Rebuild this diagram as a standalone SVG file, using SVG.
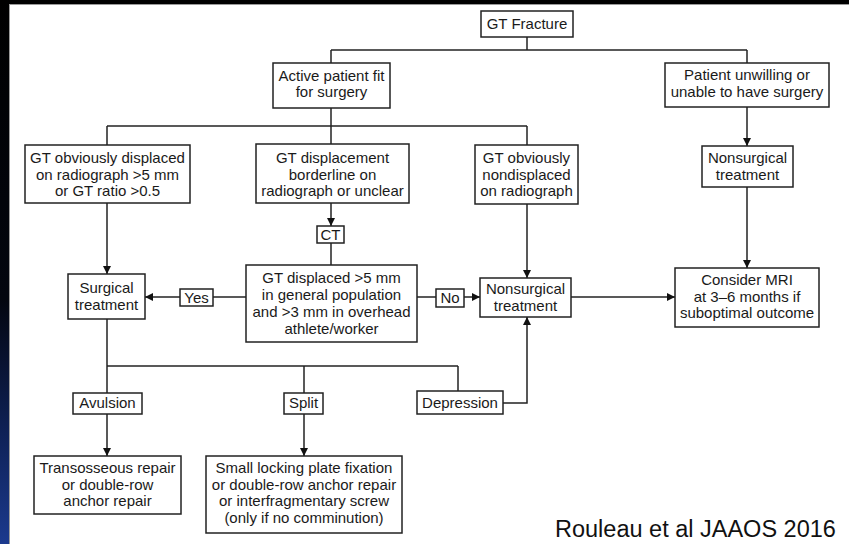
<svg xmlns="http://www.w3.org/2000/svg" width="849" height="544" viewBox="0 0 849 544">
<defs>
<linearGradient id="bg" x1="0" y1="0" x2="0" y2="1">
<stop offset="0" stop-color="#000000"/>
<stop offset="0.55" stop-color="#03060f"/>
<stop offset="0.8" stop-color="#0f2258"/>
<stop offset="1" stop-color="#1c3a8e"/>
</linearGradient>
<marker id="ah" viewBox="0 0 10 10" refX="10" refY="5" markerWidth="8" markerHeight="8" markerUnits="userSpaceOnUse" orient="auto">
<path d="M0,0 L10,5 L0,10 Z" fill="#111"/>
</marker>
<style>
.box{fill:#fff;stroke:#222;stroke-width:1.5}
.t{font-family:"Liberation Sans",Arial,sans-serif;font-size:15px;fill:#1a1a1a;text-anchor:middle}
.c line,.c polyline{stroke:#222;stroke-width:1.5;fill:none}
.a{marker-end:url(#ah)}
</style>
</defs>
<rect x="0" y="0" width="849" height="544" fill="url(#bg)"/>
<rect x="9.5" y="4.5" width="845" height="545" fill="#fff" stroke="#9a9a9a" stroke-width="1"/>

<g class="c" id="connectors">
<line x1="527" y1="37" x2="527" y2="50"/>
<line x1="331" y1="50" x2="747" y2="50"/>
<line x1="331" y1="50" x2="331" y2="63"/>
<line x1="747" y1="50" x2="747" y2="63"/>
<line x1="331" y1="108" x2="331" y2="126"/>
<line x1="107" y1="126" x2="527" y2="126"/>
<line x1="107" y1="126" x2="107" y2="145"/>
<line x1="331" y1="126" x2="331" y2="144"/>
<line x1="527" y1="126" x2="527" y2="145"/>
<line class="a" x1="747" y1="107" x2="747" y2="146"/>
<line class="a" x1="107" y1="203" x2="107" y2="274"/>
<line class="a" x1="331" y1="203" x2="331" y2="226"/>
<line x1="331" y1="243" x2="331" y2="265"/>
<line x1="246" y1="297" x2="213" y2="297"/>
<line class="a" x1="180" y1="297" x2="145" y2="297"/>
<line x1="417" y1="297" x2="436" y2="297"/>
<line class="a" x1="464" y1="297" x2="480" y2="297"/>
<line class="a" x1="527" y1="204" x2="527" y2="278"/>
<line class="a" x1="571" y1="297" x2="675" y2="297"/>
<line class="a" x1="747" y1="187" x2="747" y2="268"/>
<line x1="107" y1="319" x2="107" y2="393"/>
<line x1="107" y1="366" x2="458" y2="366"/>
<line x1="458" y1="366" x2="458" y2="391"/>
<line x1="304" y1="366" x2="304" y2="393"/>
<line class="a" x1="107" y1="414" x2="107" y2="456"/>
<line class="a" x1="304" y1="414" x2="304" y2="456"/>
<polyline class="a" points="503,403 527,403 527,317"/>
</g>

<g id="gt-fracture"><rect class="box" x="481" y="11" width="92" height="26"/><text class="t" x="527" y="29">GT Fracture</text></g>
<g id="active-patient"><rect class="box" x="273" y="63" width="117" height="45"/><text class="t" x="331.5" y="81">Active patient fit</text><text class="t" x="331.5" y="97">for surgery</text></g>
<g id="patient-unwilling"><rect class="box" x="665" y="63" width="164" height="44"/><text class="t" x="747" y="80">Patient unwilling or</text><text class="t" x="747" y="97">unable to have surgery</text></g>
<g id="obviously-displaced"><rect class="box" x="25" y="145" width="165" height="58"/><text class="t" x="107.5" y="163">GT obviously displaced</text><text class="t" x="107.5" y="179.5">on radiograph &gt;5 mm</text><text class="t" x="107.5" y="196">or GT ratio &gt;0.5</text></g>
<g id="borderline"><rect class="box" x="256" y="144" width="153" height="59"/><text class="t" x="332.5" y="163">GT displacement</text><text class="t" x="332.5" y="179.5">borderline on</text><text class="t" x="332.5" y="196">radiograph or unclear</text></g>
<g id="nondisplaced"><rect class="box" x="475" y="145" width="103" height="59"/><text class="t" x="526.5" y="163">GT obviously</text><text class="t" x="526.5" y="179.5">nondisplaced</text><text class="t" x="526.5" y="196">on radiograph</text></g>
<g id="nonsurgical-top"><rect class="box" x="702" y="146" width="91" height="41"/><text class="t" x="747.5" y="163">Nonsurgical</text><text class="t" x="747.5" y="179.5">treatment</text></g>
<g id="ct"><rect class="box" x="317" y="226" width="27" height="17"/><text class="t" x="330.5" y="240">CT</text></g>
<g id="gt-displaced"><rect class="box" x="246" y="265" width="171" height="77"/><text class="t" x="331.5" y="283">GT displaced &gt;5 mm</text><text class="t" x="331.5" y="300">in general population</text><text class="t" x="331.5" y="317">and &gt;3 mm in overhead</text><text class="t" x="331.5" y="334">athlete/worker</text></g>
<g id="yes"><rect class="box" x="180" y="289" width="33" height="17"/><text class="t" x="196.5" y="303">Yes</text></g>
<g id="surgical"><rect class="box" x="68" y="274" width="77" height="45"/><text class="t" x="106.5" y="293">Surgical</text><text class="t" x="106.5" y="309.5">treatment</text></g>
<g id="no"><rect class="box" x="436" y="289" width="28" height="18"/><text class="t" x="450" y="303">No</text></g>
<g id="nonsurgical-mid"><rect class="box" x="480" y="278" width="91" height="39"/><text class="t" x="525.5" y="294">Nonsurgical</text><text class="t" x="525.5" y="310.5">treatment</text></g>
<g id="consider-mri"><rect class="box" x="675" y="268" width="144" height="59"/><text class="t" x="747" y="285">Consider MRI</text><text class="t" x="747" y="302">at 3–6 months if</text><text class="t" x="747" y="318">suboptimal outcome</text></g>
<g id="avulsion"><rect class="box" x="73" y="393" width="69" height="21"/><text class="t" x="107.5" y="408">Avulsion</text></g>
<g id="split"><rect class="box" x="284" y="393" width="39" height="21"/><text class="t" x="303.5" y="408">Split</text></g>
<g id="depression"><rect class="box" x="417" y="391" width="86" height="23"/><text class="t" x="460" y="407.5">Depression</text></g>
<g id="transosseous"><rect class="box" x="34" y="456" width="147" height="58"/><text class="t" x="107.5" y="473">Transosseous repair</text><text class="t" x="107.5" y="490">or double-row</text><text class="t" x="107.5" y="506">anchor repair</text></g>
<g id="small-locking"><rect class="box" x="206" y="456" width="196" height="77"/><text class="t" x="304" y="473">Small locking plate fixation</text><text class="t" x="304" y="490">or double-row anchor repair</text><text class="t" x="304" y="506">or interfragmentary screw</text><text class="t" x="304" y="523">(only if no comminution)</text></g>
<text x="555" y="537" font-family="'Liberation Sans',Arial,sans-serif" font-size="23.5" fill="#111">Rouleau et al JAAOS 2016</text>
</svg>
